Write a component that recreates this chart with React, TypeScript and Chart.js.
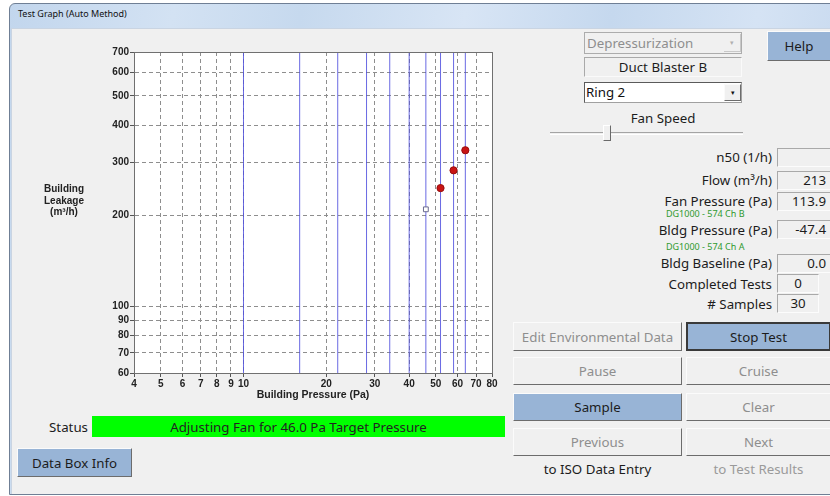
import React, { useEffect, useRef } from 'react';
import { Chart, registerables } from 'chart.js';

Chart.register(...registerables);

// ---------- data ----------
const xTickValues = [4, 5, 6, 7, 8, 9, 10, 20, 30, 40, 50, 60, 70, 80];
const yTickValues = [60, 70, 80, 90, 100, 200, 300, 400, 500, 600, 700];
const targetPressures = [10, 16, 22, 28, 34, 40, 46, 52, 58, 64];
const sampledPressures = [52, 58, 64];
const sampledLeakage = [247, 283, 330];
const currentPressure = [46];
const currentLeakage = [210];

const xTitle = 'Building Pressure (Pa)';
const yTitleLines = ['Building', 'Leakage', '(m³/h)'];

const fieldLabels = ['n50 (1/h)', 'Flow (m³/h)', 'Fan Pressure (Pa)', 'Bldg Pressure (Pa)', 'Bldg Baseline (Pa)', 'Completed Tests', '# Samples'];
const fieldValues = ['', '213', '113.9', '-47.4', '0.0', '0', '30'];

const UI = '"Noto Sans", "Open Sans", sans-serif';
const AX = '"Liberation Sans", Arial, sans-serif';
const FS = 13.3;

const abs = (l: number, t: number, w: number, h: number, extra: any = {}) => ({
  position: 'absolute' as const,
  left: l,
  top: t,
  width: w,
  height: h,
  boxSizing: 'border-box' as const,
  ...extra,
});

const BLUE = '#98b4d6';

function Btn({ l, t, w, h, text, blue, disabled, focused }: any) {
  const style: any = abs(l, t, w, h, {
    background: blue ? BLUE : '#f0f0f0',
    display: 'flex',
    alignItems: 'center',
    justifyContent: 'center',
    fontFamily: UI,
    fontSize: FS,
    color: disabled ? '#8e8e8e' : '#1c1c1c',
    borderStyle: 'solid',
    borderWidth: 1,
    borderColor: '#fbfbfb #6c6c6c #6c6c6c #fbfbfb',
  });
  if (focused) {
    style.border = '2px solid #3a3a3a';
  }
  return <div style={style}>{text}</div>;
}

function ChartCanvas() {
  const ref = useRef<HTMLCanvasElement | null>(null);
  useEffect(() => {
    if (!ref.current) return;
    const yMin = yTickValues[0];
    const yMax = yTickValues[yTickValues.length - 1];
    const tickFont = { family: AX, size: 10, weight: 'bold' as const };
    const framePlugin = {
      id: 'frame',
      beforeDraw(c: any) {
        const { ctx, chartArea: a } = c;
        ctx.save();
        ctx.fillStyle = '#ffffff';
        ctx.fillRect(a.left, a.top, a.right - a.left, a.bottom - a.top);
        ctx.restore();
      },
      afterDraw(c: any) {
        const { ctx, chartArea: a } = c;
        ctx.save();
        ctx.strokeStyle = '#707070';
        ctx.lineWidth = 1;
        ctx.setLineDash([]);
        const l = Math.round(a.left) + 0.5;
        const t = Math.round(a.top) + 0.5;
        const r = Math.round(a.right) + 0.5;
        const b = Math.round(a.bottom) + 0.5;
        ctx.strokeRect(l, t, r - l, b - t);
        ctx.restore();
      },
    };
    const grid = { color: '#8e8e8e', lineWidth: 1, tickLength: 4, tickColor: '#555' };
    const border = { display: true, color: '#707070', width: 1, dash: [4, 3] };
    const chart = new Chart(ref.current, {
      type: 'scatter',
      data: {
        datasets: [
          {
            label: 'Samples',
            data: sampledPressures.map((x, i) => ({ x, y: sampledLeakage[i] })),
            backgroundColor: '#c81414',
            borderColor: '#980c0c',
            borderWidth: 1,
            pointRadius: 3.6,
            order: 0,
          } as any,
          {
            label: 'Current',
            data: currentPressure.map((x, i) => ({ x, y: currentLeakage[i] })),
            pointStyle: 'rect',
            backgroundColor: '#ffffff',
            borderColor: '#6b6b90',
            borderWidth: 1,
            pointRadius: 3.4,
            order: 0,
          },
          ...targetPressures.map((p) => ({
            label: 'Target ' + p,
            data: [
              { x: p, y: yMin },
              { x: p, y: yMax },
            ],
            showLine: true,
            borderColor: 'rgba(80,80,222,0.85)',
            borderWidth: 1,
            pointRadius: 0,
            order: 1,
          })),
        ],
      },
      options: {
        animation: false,
        responsive: false,
        maintainAspectRatio: false,
        layout: { padding: { left: 0, right: 8, top: 12, bottom: 0 } },
        plugins: { legend: { display: false }, tooltip: { enabled: false } },
        scales: {
          x: {
            type: 'logarithmic',
            position: 'bottom',
            min: xTickValues[0],
            max: xTickValues[xTickValues.length - 1],
            afterBuildTicks: (s: any) => {
              s.ticks = xTickValues.map((v) => ({ value: v }));
            },
            afterFit: (s: any) => {
              s.height = 37;
            },
            ticks: {
              autoSkip: false,
              maxRotation: 0,
              minRotation: 0,
              padding: 1,
              color: '#222',
              font: tickFont,
              callback: (v: any) => String(v),
            },
            grid,
            border,
            title: {
              display: true,
              text: xTitle,
              color: '#222',
              font: { family: AX, size: 10.5, weight: 'bold' },
              padding: { top: 0, bottom: 9 },
            },
          } as any,
          y: {
            type: 'logarithmic',
            position: 'left',
            min: yMin,
            max: yMax,
            afterBuildTicks: (s: any) => {
              s.ticks = yTickValues.map((v) => ({ value: v }));
            },
            afterFit: (s: any) => {
              s.width = 34;
            },
            ticks: {
              autoSkip: false,
              padding: 1,
              color: '#222',
              font: tickFont,
              callback: (v: any) => String(v),
            },
            grid,
            border,
          } as any,
        },
      },
      plugins: [framePlugin],
    });
    return () => chart.destroy();
  }, []);
  return (
    <canvas
      ref={ref}
      width={400}
      height={370}
      style={{ position: 'absolute', left: 100, top: 40, width: 400, height: 370, display: 'block' }}
    />
  );
}

export default function App() {
  const rowCenters = [157, 180, 201, 229.5, 263, 283.5, 303.5];
  const dgStyle = { fontFamily: UI, fontSize: 9, letterSpacing: 0, color: '#2f9a2f', lineHeight: '12px', whiteSpace: 'nowrap' as const };
  return (
    <div
      style={{
        position: 'absolute',
        left: 0,
        top: 0,
        width: 830,
        height: 496,
        overflow: 'hidden',
        background: '#ffffff',
        fontFamily: UI,
      }}
    >
      {/* window frame */}
      <div
        style={abs(9, 3, 830, 492, {
          border: '1px solid #6f7f95',
          borderTopLeftRadius: 6,
          background:
            'linear-gradient(100deg, #c2d6ed 0%, #d3e2f3 18%, #c6d9ee 32%, #d8e5f5 50%, #c5d8ee 66%, #d5e3f4 82%, #c0d4ec 100%)',
        })}
      />
      <div style={abs(18, 6, 200, 16, { fontSize: 9, color: '#111', lineHeight: '16px' })}>Test Graph (Auto Method)</div>
      {/* client area */}
      <div style={abs(11, 28, 822, 466, { background: '#f0f0f0', borderLeft: '1px solid #c9d4e2', borderTop: '1px solid #c9d4e2' })} />

      {/* chart */}
      <ChartCanvas />
      <div
        style={abs(24, 183, 80, 36, {
          fontFamily: AX,
          fontWeight: 'bold',
          fontSize: 10,
          lineHeight: '11.5px',
          textAlign: 'center',
          color: '#222',
        })}
      >
        {yTitleLines.map((s) => (
          <div key={s}>{s}</div>
        ))}
      </div>

      {/* status */}
      <div style={abs(20, 417, 68, 20, { fontSize: FS, color: '#1c1c1c', textAlign: 'right', lineHeight: '20px' })}>Status</div>
      <div
        style={abs(92, 416, 413, 21, {
          background: '#00ff00',
          display: 'flex',
          alignItems: 'center',
          justifyContent: 'center',
          fontSize: FS,
          color: '#222',
        })}
      >
        Adjusting Fan for 46.0 Pa Target Pressure
      </div>
      <Btn l={17} t={448} w={115} h={29} text="Data Box Info" blue />

      {/* right panel: combos */}
      <div
        style={abs(584, 32, 158, 22, {
          border: '1px solid #acacac',
          background: '#f0f0f0',
          color: '#8e8e8e',
          fontSize: FS,
          lineHeight: '20px',
          paddingLeft: 2,
        })}
      >
        Depressurization
        <div style={abs(139, 1, 17, 18, { borderRight: '1px solid #c8c8c8', borderBottom: '1px solid #c8c8c8', color: '#b0b0b0', fontSize: 7, lineHeight: '18px', textAlign: 'center' })}>▾</div>
      </div>
      <div
        style={abs(584, 57, 158, 20, {
          borderTop: '1px solid #a9a9a9',
          borderLeft: '1px solid #a9a9a9',
          borderBottom: '1px solid #fafafa',
          borderRight: '1px solid #fafafa',
          background: '#f0f0f0',
          color: '#1c1c1c',
          fontSize: FS,
          lineHeight: '18px',
          textAlign: 'center',
        })}
      >
        Duct Blaster B
      </div>
      <div
        style={abs(584, 82, 158, 21, {
          border: '1px solid #5a5a5a',
          borderBottomColor: '#a0a0a0',
          borderRightColor: '#a0a0a0',
          background: '#ffffff',
          color: '#111',
          fontSize: FS,
          lineHeight: '19px',
          paddingLeft: 1,
        })}
      >
        Ring 2
        <div
          style={abs(139, 1, 17, 17, {
            background: '#f0f0f0',
            border: '1px solid',
            borderColor: '#fafafa #6c6c6c #6c6c6c #fafafa',
            color: '#111',
            fontSize: 7,
            lineHeight: '15px',
            textAlign: 'center',
          })}
        >
          ▾
        </div>
      </div>
      <div style={abs(584, 108, 158, 20, { fontSize: FS, color: '#1c1c1c', textAlign: 'center', lineHeight: '20px' })}>Fan Speed</div>
      {/* slider */}
      <div style={abs(550, 132, 193, 3, { borderTop: '1px solid #a4a4a4', borderBottom: '1px solid #ffffff' })} />
      <div
        style={abs(603, 125, 8, 16, {
          borderRight: '1px solid #6a6a6a',
          borderBottom: '1px solid #6a6a6a',
          borderTop: '1px solid #ffffff',
          borderLeft: '1px solid #ffffff',
          background: '#f0f0f0',
        })}
      />
      <Btn l={767} t={31} w={64} h={30} text="Help" blue />

      {/* fields */}
      {fieldLabels.map((lab, i) => {
        const c = rowCenters[i];
        const narrow = i >= 5;
        return (
          <React.Fragment key={lab}>
            <div style={abs(600, c - 10, 172, 20, { fontSize: FS, color: '#1c1c1c', textAlign: 'right', lineHeight: '20px' })}>{lab}</div>
            <div
              style={abs(777, c - 9.5, narrow ? 42 : 55, 19, {
                borderTop: '1px solid #a9a9a9',
                borderLeft: '1px solid #a9a9a9',
                borderBottom: '1px solid #fcfcfc',
                borderRight: '1px solid #fcfcfc',
                background: '#f0f0f0',
                fontSize: FS,
                color: '#1c1c1c',
                lineHeight: '17px',
                textAlign: narrow ? 'center' : 'right',
                paddingRight: narrow ? 0 : 5,
              })}
            >
              {fieldValues[i]}
            </div>
          </React.Fragment>
        );
      })}
      <div style={abs(666, 208, 120, 12, dgStyle)}>DG1000 - 574 Ch B</div>
      <div style={abs(666, 241, 120, 12, dgStyle)}>DG1000 - 574 Ch A</div>

      {/* buttons */}
      <Btn l={513} t={322} w={169} h={29} text="Edit Environmental Data" disabled />
      <Btn l={686} t={322} w={145} h={29} text="Stop Test" blue focused />
      <Btn l={513} t={357} w={169} h={28} text="Pause" disabled />
      <Btn l={686} t={357} w={145} h={28} text="Cruise" disabled />
      <Btn l={513} t={393} w={169} h={28} text="Sample" blue />
      <Btn l={686} t={393} w={145} h={28} text="Clear" disabled />
      <Btn l={513} t={428} w={169} h={28} text="Previous" disabled />
      <Btn l={686} t={428} w={145} h={28} text="Next" disabled />
      <div style={abs(513, 459, 169, 20, { fontSize: FS, color: '#1c1c1c', textAlign: 'center', lineHeight: '20px' })}>to ISO Data Entry</div>
      <div style={abs(686, 459, 145, 20, { fontSize: FS, color: '#9a9a9a', textAlign: 'center', lineHeight: '20px' })}>to Test Results</div>
    </div>
  );
}
